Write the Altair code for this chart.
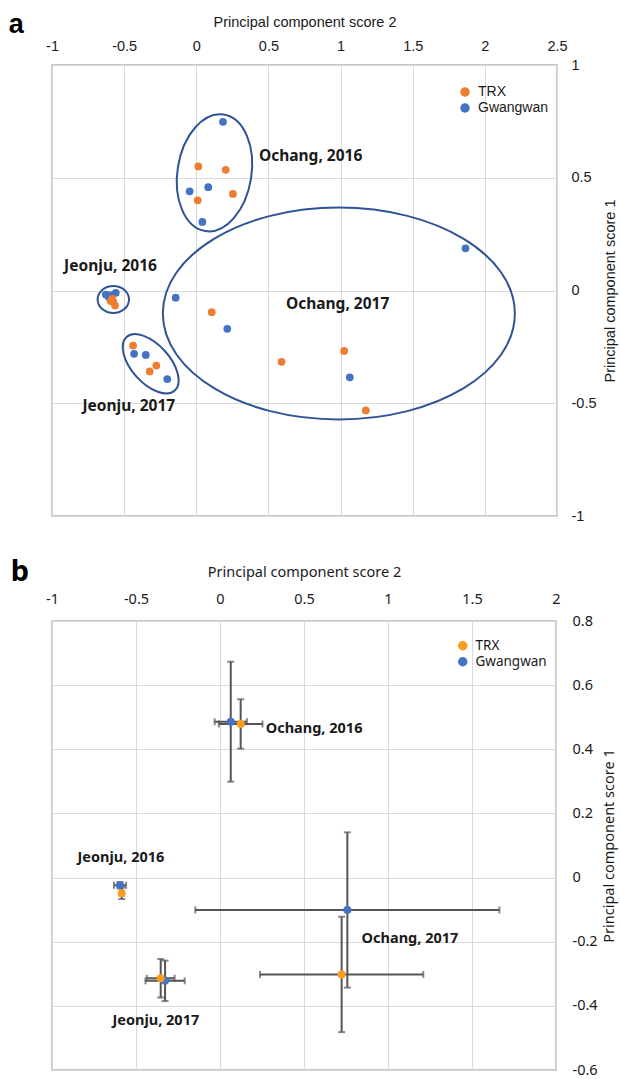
import altair as alt
import pandas as pd

# ---------------- data ----------------
CULTIVARS = ["TRX", "Gwangwan"]

# Panel a - individual principal component scores
a_site = (["Ochang, 2016"] * 8 + ["Jeonju, 2016"] * 8 +
          ["Jeonju, 2017"] * 6 + ["Ochang, 2017"] * 8)
a_cultivar = (["Gwangwan"] * 4 + ["TRX"] * 4 + ["Gwangwan"] * 4 + ["TRX"] * 4 +
              ["Gwangwan"] * 3 + ["TRX"] * 3 + ["Gwangwan"] * 4 + ["TRX"] * 4)
a_pc2 = [0.185, -0.046, 0.083, 0.042, 0.014, 0.204, 0.254, 0.010,
         -0.627, -0.558, -0.605, -0.590, -0.593, -0.563, -0.582, -0.575,
         -0.431, -0.350, -0.201, -0.438, -0.277, -0.323,
         -0.143, 0.215, 1.064, 1.866, 0.107, 0.591, 1.025, 1.175]
a_pc1 = [0.748, 0.440, 0.458, 0.304, 0.550, 0.535, 0.428, 0.400,
         -0.018, -0.010, -0.030, -0.020, -0.047, -0.067, -0.037, -0.050,
         -0.281, -0.286, -0.393, -0.244, -0.333, -0.359,
         -0.032, -0.170, -0.385, 0.187, -0.096, -0.316, -0.268, -0.532]

# cluster ellipse centres (panel a)
ell_site = ["Ochang, 2016", "Jeonju, 2016", "Jeonju, 2017", "Ochang, 2017"]
ell_pc2 = [0.126, -0.575, -0.316, 0.988]
ell_pc1 = [0.522, -0.040, -0.325, -0.102]

# cluster labels (panel a)
a_lab_text = ["Ochang, 2016", "Jeonju, 2016", "Jeonju, 2017", "Ochang, 2017"]
a_lab_pc2 = [0.434, -0.916, -0.789, 0.621]
a_lab_pc1 = [0.597, 0.108, -0.514, -0.062]

# Panel b - means with standard deviations
b_site = ["Ochang, 2016", "Ochang, 2016", "Jeonju, 2016", "Jeonju, 2016",
          "Jeonju, 2017", "Jeonju, 2017", "Ochang, 2017", "Ochang, 2017"]
b_cultivar = ["Gwangwan", "TRX"] * 4
b_pc2 = [0.064, 0.123, -0.595, -0.585, -0.327, -0.353, 0.758, 0.724]
b_pc1 = [0.486, 0.479, -0.024, -0.049, -0.322, -0.314, -0.101, -0.302]
b_pc2_sd = [0.096, 0.130, 0.036, 0.012, 0.117, 0.083, 0.905, 0.486]
b_pc1_sd = [0.187, 0.077, 0.010, 0.018, 0.063, 0.060, 0.242, 0.180]

# cluster labels (panel b)
b_lab_text = ["Ochang, 2016", "Jeonju, 2016", "Jeonju, 2017", "Ochang, 2017"]
b_lab_pc2 = [0.272, -0.848, -0.640, 0.843]
b_lab_pc1 = [0.462, 0.062, -0.447, -0.190]

# panel letters (placed in each panel's data space, outside the frame)
letter_text = ["a", "b"]
letter_pc2 = [-1.30, -1.245]
letter_pc1 = [1.178, 0.953]

# axis ticks
a_xticks = [-1, -0.5, 0, 0.5, 1, 1.5, 2, 2.5]
a_yticks = [-1, -0.5, 0, 0.5, 1]
b_xticks = [-1, -0.5, 0, 0.5, 1, 1.5, 2]
b_yticks = [-0.6, -0.4, -0.2, 0, 0.2, 0.4, 0.6, 0.8]

# ---------------- styles ----------------
FA = "Liberation Sans"
FB = "Noto Sans"
GRID = "#D9D9D9"
ELL_COLOR = "#2F5496"
A_COLORS = ["#ED7D31", "#4472C4"]
B_COLORS = ["#F99D1C", "#4472C4"]
# ellipse shape styles: (minor/major ratio, major diameter px, rotation deg)
ELL_STYLE = {
    "Ochang, 2016": (0.627, 118, 99),
    "Jeonju, 2016": (0.86, 31.4, 0),
    "Jeonju, 2017": (0.53, 72, 48),
    "Ochang, 2017": (0.602, 352, 0),
}

W, H = 505, 451

df_a = pd.DataFrame({"site": a_site, "cultivar": a_cultivar, "pc2": a_pc2, "pc1": a_pc1})
df_ell = pd.DataFrame({"site": ell_site, "pc2": ell_pc2, "pc1": ell_pc1})
df_alab = pd.DataFrame({"text": a_lab_text, "pc2": a_lab_pc2, "pc1": a_lab_pc1})
df_b = pd.DataFrame({"site": b_site, "cultivar": b_cultivar, "pc2": b_pc2, "pc1": b_pc1,
                     "pc2_sd": b_pc2_sd, "pc1_sd": b_pc1_sd})
df_blab = pd.DataFrame({"text": b_lab_text, "pc2": b_lab_pc2, "pc1": b_lab_pc1})
df_letter = pd.DataFrame({"text": letter_text, "pc2": letter_pc2, "pc1": letter_pc1})

LABEL_EXPR = "'' + datum.value"


def x_axis(values, font, size, lpad, tpad):
    return alt.Axis(orient="top", values=values, labelExpr=LABEL_EXPR,
                    title="Principal component score 2", domain=False, ticks=False,
                    tickSize=0, grid=True, gridColor=GRID, gridWidth=1,
                    labelFont=font, labelFontSize=size, labelPadding=lpad,
                    labelFlush=False, labelOverlap=False, labelColor="#1a1a1a",
                    titleFont=font, titleFontSize=size, titleFontWeight="normal",
                    titlePadding=tpad, titleColor="#1a1a1a")


def y_axis(values, font, size, lpad, tpad):
    return alt.Axis(orient="right", values=values, labelExpr=LABEL_EXPR,
                    title="Principal component score 1", domain=False, ticks=False,
                    tickSize=0, grid=True, gridColor=GRID, gridWidth=1,
                    labelFont=font, labelFontSize=size, labelPadding=lpad,
                    labelFlush=False, labelOverlap=False, labelColor="#1a1a1a",
                    titleFont=font, titleFontSize=size, titleFontWeight="normal",
                    titlePadding=tpad, titleColor="#1a1a1a", titleAngle=270,
                    titleBaseline="top")


# ---------------- panel a ----------------
xa = alt.X("pc2:Q", scale=alt.Scale(domain=[-1, 2.5], nice=False, zero=False),
           axis=x_axis(a_xticks, FA, 14.5, 12, 9))
ya = alt.Y("pc1:Q", scale=alt.Scale(domain=[-1, 1], nice=False, zero=False),
           axis=y_axis(a_yticks, FA, 14.5, 14, 8))

layers_a = []
for site in ell_site:
    ratio, diam, ang = ELL_STYLE[site]
    path = f"M -1 0 A 1 {ratio} 0 1 1 1 0 A 1 {ratio} 0 1 1 -1 0 Z"
    layers_a.append(
        alt.Chart(df_ell).transform_filter(alt.datum.site == site)
        .mark_point(shape=path, size=diam * diam, angle=ang, filled=False,
                    color=ELL_COLOR, strokeWidth=2, opacity=1)
        .encode(x=xa, y=ya)
    )

pts_a = alt.Chart(df_a).mark_circle(size=60, opacity=1).encode(
    x=xa, y=ya,
    color=alt.Color("cultivar:N",
                    scale=alt.Scale(domain=CULTIVARS, range=A_COLORS),
                    legend=alt.Legend(orient="none", legendX=406, legendY=20, title=None,
                                      labelFont="Liberation Sans", labelFontSize=14,
                                      labelColor="#1a1a1a", symbolType="circle",
                                      symbolSize=90, labelOffset=6, rowPadding=2,
                                      padding=0)),
)
txt_a = alt.Chart(df_alab).mark_text(align="left", baseline="middle", font=FB,
                                     fontSize=15.5, fontWeight="bold",
                                     color="#1a1a1a").encode(x=xa, y=ya, text="text:N")
letter_a = alt.Chart(df_letter).transform_filter(alt.datum.text == "a").mark_text(
    align="left", baseline="middle", font="Liberation Sans", fontSize=27,
    fontWeight="bold", color="#000000").encode(x=xa, y=ya, text="text:N")

chart_a = alt.layer(*layers_a, pts_a, txt_a, letter_a).properties(width=W, height=H)

# ---------------- panel b ----------------
xb = alt.X("pc2:Q", scale=alt.Scale(domain=[-1, 2], nice=False, zero=False),
           axis=x_axis(b_xticks, FB, 14.5, 14.7, 11.5))
yb = alt.Y("pc1:Q", scale=alt.Scale(domain=[-0.6, 0.8], nice=False, zero=False),
           axis=y_axis(b_yticks, FB, 14.5, 16, 5))

err_x = alt.Chart(df_b).mark_errorbar(ticks=True, size=7, thickness=2,
                                      color="#555555").encode(
    x=xb, xError="pc2_sd:Q", y=yb)
err_y = alt.Chart(df_b).mark_errorbar(ticks=True, size=7, thickness=2,
                                      color="#555555").encode(
    y=yb, yError="pc1_sd:Q", x=xb)
pts_b = alt.Chart(df_b).mark_circle(size=64, opacity=1).encode(
    x=xb, y=yb,
    color=alt.Color("cultivar:N",
                    scale=alt.Scale(domain=CULTIVARS, range=B_COLORS),
                    legend=alt.Legend(orient="none", legendX=404, legendY=18, title=None,
                                      labelFont=FB, labelFontSize=13.5,
                                      labelColor="#1a1a1a", symbolType="circle",
                                      symbolSize=90, labelOffset=6, rowPadding=1,
                                      padding=0)),
)
txt_b = alt.Chart(df_blab).mark_text(align="left", baseline="middle", font=FB,
                                     fontSize=14.5, fontWeight="bold",
                                     color="#1a1a1a").encode(x=xb, y=yb, text="text:N")
letter_b = alt.Chart(df_letter).transform_filter(alt.datum.text == "b").mark_text(
    align="left", baseline="middle", font="Noto Sans", fontSize=29,
    fontWeight="bold", color="#000000").encode(x=xb, y=yb, text="text:N")

chart_b = alt.layer(err_x, err_y, pts_b, txt_b, letter_b).properties(
    width=W - 1, height=H - 2)

chart = (
    alt.vconcat(chart_a, chart_b, spacing=33)
    .resolve_scale(x="independent", y="independent", color="independent")
    .properties(padding={"left": 8, "top": 10, "right": 0, "bottom": 0},
                background="white")
    .configure_view(stroke="#8C8C8C", strokeWidth=1.3)
)

chart.save("out.html", embed_options={"renderer": "svg", "actions": False})
